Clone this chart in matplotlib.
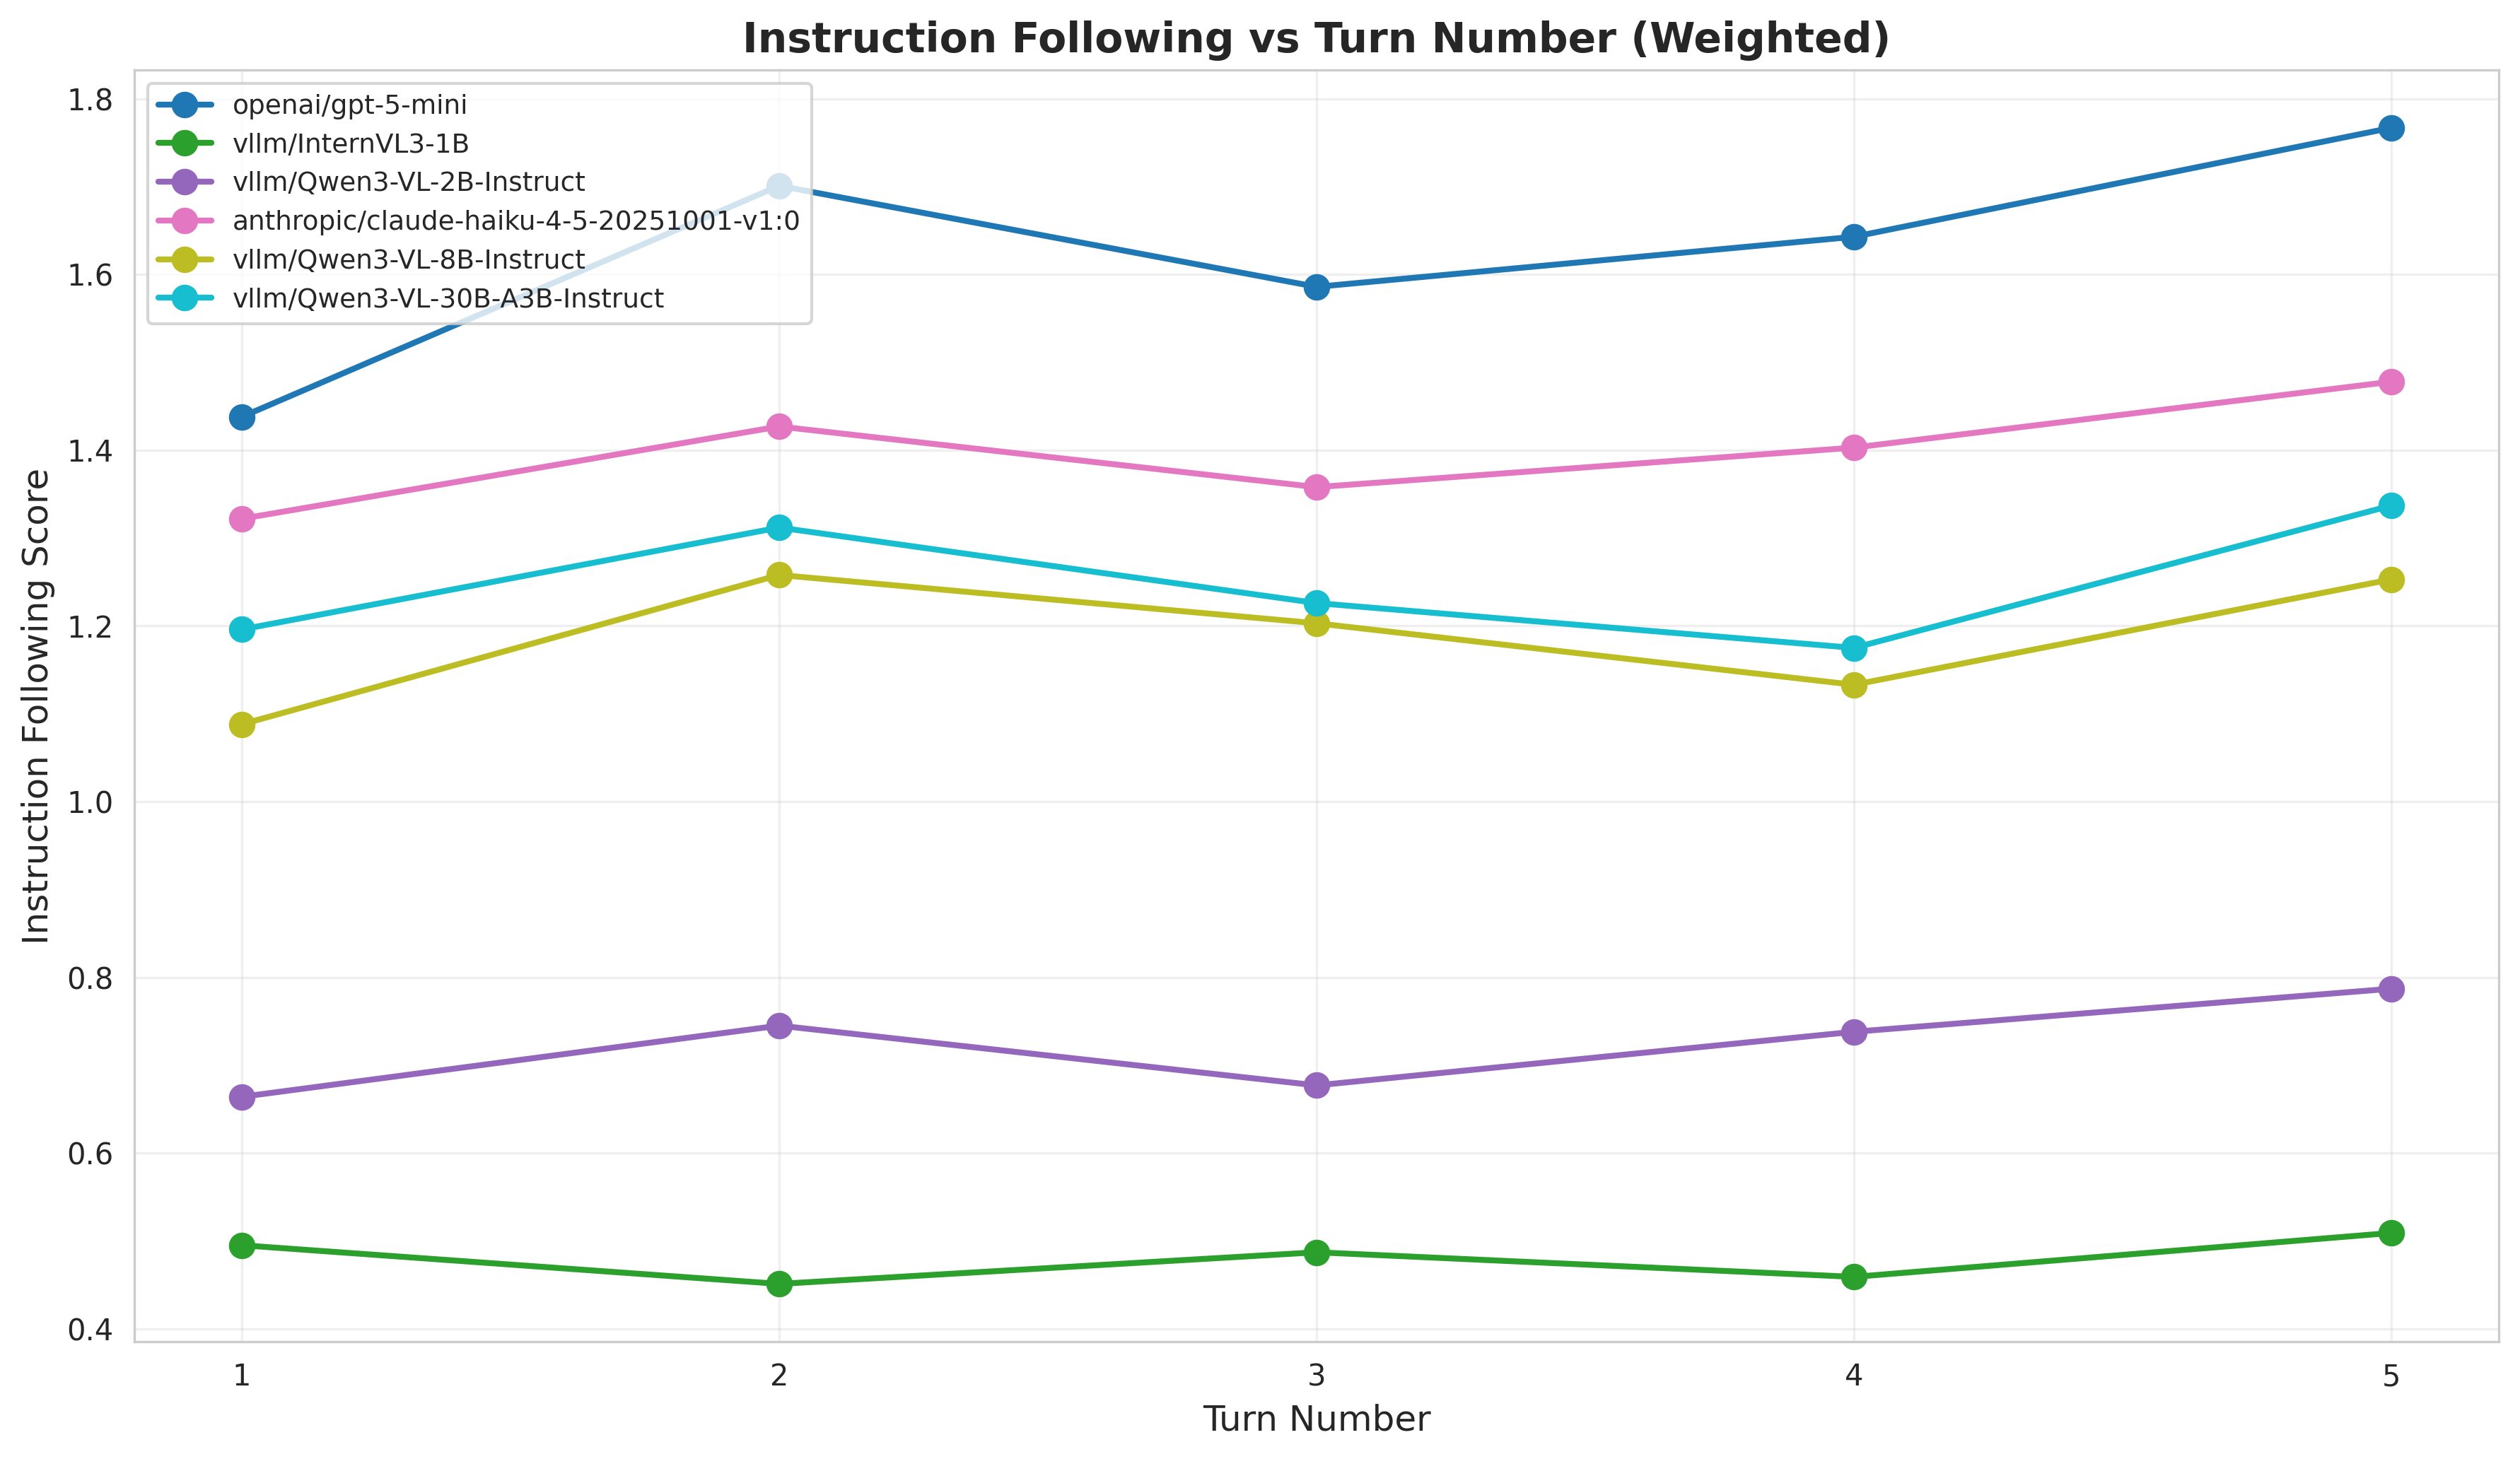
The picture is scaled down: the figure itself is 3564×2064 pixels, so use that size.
import matplotlib
matplotlib.use("Agg")
import matplotlib.pyplot as plt
import numpy as np
import seaborn as sns

turns = [1, 2, 3, 4, 5]

models = [
    "openai/gpt-5-mini",
    "vllm/InternVL3-1B",
    "vllm/Qwen3-VL-2B-Instruct",
    "anthropic/claude-haiku-4-5-20251001-v1:0",
    "vllm/Qwen3-VL-8B-Instruct",
    "vllm/Qwen3-VL-30B-A3B-Instruct",
]

gpt5_mini = [1.438, 1.701, 1.586, 1.643, 1.767]
internvl3_1b = [0.495, 0.451, 0.487, 0.459, 0.509]
qwen3_2b = [0.664, 0.745, 0.677, 0.738, 0.787]
claude_haiku = [1.322, 1.427, 1.358, 1.403, 1.478]
qwen3_8b = [1.088, 1.258, 1.203, 1.133, 1.253]
qwen3_30b = [1.196, 1.312, 1.226, 1.175, 1.337]

scores = [gpt5_mini, internvl3_1b, qwen3_2b, claude_haiku, qwen3_8b, qwen3_30b]

sns.set_style("whitegrid")
plt.rcParams['font.family'] = ['DejaVu Sans']

fig, ax = plt.subplots(figsize=(11.88, 6.88), dpi=300)

# spread colours over tab10 like the original
colors = plt.cm.tab10(np.linspace(0, 1, len(models)))

for name, vals, c in zip(models, scores, colors):
    ax.plot(turns, vals, marker="o", linewidth=2, markersize=8, color=c, label=name)

ax.set_title("Instruction Following vs Turn Number (Weighted)", fontsize=14, fontweight="bold")
ax.set_xlabel("Turn Number", fontsize=12)
ax.set_ylabel("Instruction Following Score", fontsize=12)
ax.set_xticks(turns)
ax.tick_params(labelsize=10)
ax.grid(True, alpha=0.3)
ax.legend(loc="upper left", fontsize=9, framealpha=0.8)

fig.subplots_adjust(left=0.0533, right=0.9916, top=0.952, bottom=0.0804)
fig.savefig("out.png", dpi=300)
